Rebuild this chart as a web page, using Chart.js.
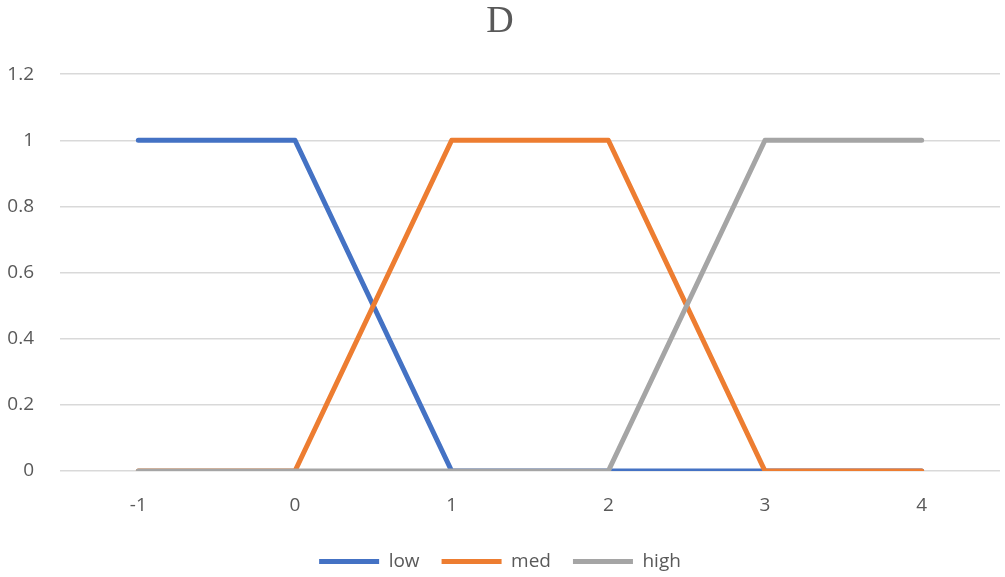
<!DOCTYPE html>
<html>
<head>
<meta charset="utf-8">
<script src="https://cdn.jsdelivr.net/npm/chart.js@4.4.0/dist/chart.umd.min.js"></script>
<style>
  html,body{margin:0;padding:0;background:#fff;}
  #wrap{width:1005px;height:577px;}
</style>
</head>
<body>
<div id="wrap"><canvas id="grafico" width="1005" height="577"></canvas></div>
<script>
const categorias = ["-1", "0", "1", "2", "3", "4"];
const low  = [1, 1, 0, 0, 0, 0];
const med  = [0, 0, 1, 1, 0, 0];
const high = [0, 0, 0, 0, 1, 1];

const textoCor = "#595959";
const fonte = "'Open Sans', 'Liberation Sans', sans-serif";

function serie(nome, valores, cor, ordem){
  return {
    label:nome,
    data:valores,
    borderColor:cor,
    backgroundColor:cor,
    borderWidth:5,
    borderCapStyle:"round",
    borderJoinStyle:"round",
    pointRadius:0,
    pointStyle:"line",
    tension:0,
    order:ordem
  };
}

const chart = new Chart(document.getElementById("grafico"),{
  type:"line",
  data:{
    labels:categorias,
    datasets:[
      serie("low", low, "#4472C4", 2),
      serie("med", med, "#ED7D31", 1),
      serie("high", high, "#A5A5A5", 0)
    ]
  },
  options:{
    responsive:false,
    animation:false,
    layout:{padding:{left:0,right:5,top:0,bottom:-4}},
    plugins:{
      title:{
        display:true,
        text:"D",
        color:textoCor,
        font:{family:"'Liberation Serif', 'DejaVu Serif', serif",size:38,weight:"normal"},
        padding:{top:-1,bottom:29.5}
      },
      legend:{
        position:"bottom",
        labels:{
          usePointStyle:true,
          pointStyleWidth:60,
          boxHeight:18,
          padding:22,
          color:textoCor,
          font:{family:fonte,size:19},
          sort:(a,b)=>a.datasetIndex-b.datasetIndex
        }
      },
      tooltip:{enabled:false}
    },
    scales:{
      x:{
        offset:true,
        grid:{display:false},
        border:{display:false},
        ticks:{color:textoCor,font:{family:fonte,size:19},padding:15},
        afterFit:s=>{s.height=59;}
      },
      y:{
        min:0,
        max:1.2,
        ticks:{
          stepSize:0.2,
          color:textoCor,
          font:{family:fonte,size:19},
          padding:26,
          callback:v=>String(Number(v.toFixed(1)))
        },
        grid:{color:"#d9d9d9",lineWidth:1.5,drawTicks:false},
        border:{display:false},
        afterFit:s=>{s.width=60;}
      }
    }
  }
});
</script>
</body>
</html>
